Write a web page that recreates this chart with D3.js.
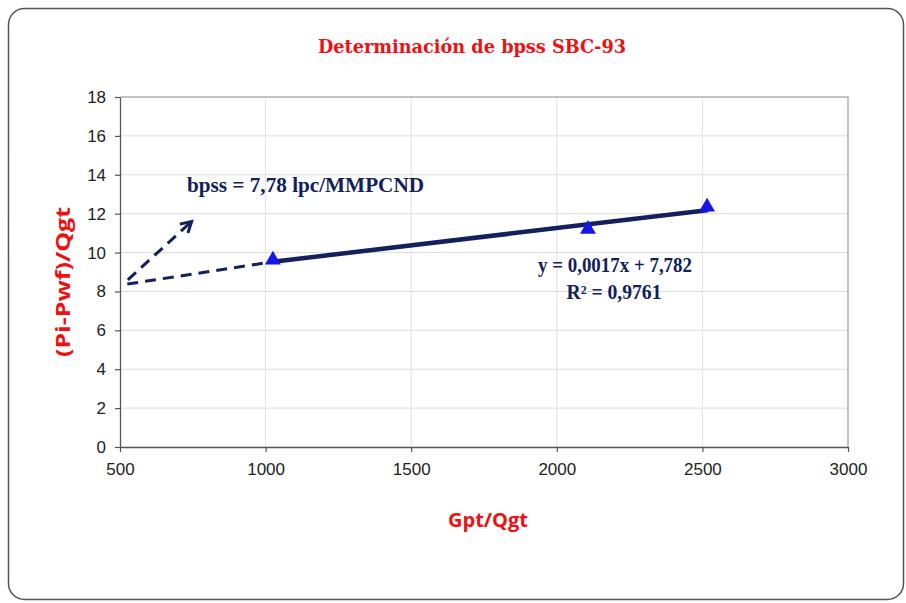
<!DOCTYPE html>
<html>
<head>
<meta charset="utf-8">
<script src="https://cdn.jsdelivr.net/npm/d3@7"></script>
<style>
  html, body { margin: 0; padding: 0; background: #ffffff; }
  svg { display: block; }
</style>
</head>
<body>
<svg id="chart" width="906" height="603"></svg>
<script>
// Measured points: Gpt/Qgt vs (Pi-Pwf)/Qgt
const gptQgt = [1025, 2107, 2516];
const piPwfQgt = [9.62, 11.2, 12.35];

// Linear fit reported on the chart
const slope = 0.0017;
const intercept = 7.782;
const eqLabel = "y = 0,0017x + 7,782";
const r2Label = "R² = 0,9761";
const bpssLabel = "bpss = 7,78 lpc/MMPCND";

const xTicks = [500, 1000, 1500, 2000, 2500, 3000];
const yTicks = [0, 2, 4, 6, 8, 10, 12, 14, 16, 18];

const svg = d3.select("#chart");

// Outer frame
svg.append("rect")
  .attr("x", 8.5).attr("y", 8.5)
  .attr("width", 895).attr("height", 591)
  .attr("rx", 16).attr("ry", 16)
  .attr("fill", "#ffffff")
  .attr("stroke", "#555555")
  .attr("stroke-width", 1.5);

const plot = { left: 120, right: 848, top: 97, bottom: 447 };

const x = d3.scaleLinear().domain([500, 3000]).range([plot.left, plot.right]);
const y = d3.scaleLinear().domain([0, 18]).range([plot.bottom, plot.top]);

// Gridlines
svg.append("g")
  .selectAll("line")
  .data(yTicks.filter(d => d > 0))
  .join("line")
  .attr("x1", plot.left).attr("x2", plot.right)
  .attr("y1", d => y(d)).attr("y2", d => y(d))
  .attr("stroke", "#dcdcdc").attr("stroke-width", 1);

svg.append("g")
  .selectAll("line")
  .data(xTicks.filter(d => d > 500 && d < 3000))
  .join("line")
  .attr("x1", d => x(d)).attr("x2", d => x(d))
  .attr("y1", plot.top).attr("y2", plot.bottom)
  .attr("stroke", "#e2e2e2").attr("stroke-width", 1);

// Plot area border (top & right)
svg.append("path")
  .attr("d", `M${plot.left},${plot.top}H${plot.right}V${plot.bottom}`)
  .attr("fill", "none")
  .attr("stroke", "#9a9a9a")
  .attr("stroke-width", 1.2);

// Axes
const xAxis = d3.axisBottom(x).tickValues(xTicks).tickSize(5).tickSizeOuter(0).tickFormat(d3.format("d"));
const yAxis = d3.axisLeft(y).tickValues(yTicks).tickSize(5).tickSizeOuter(0).tickFormat(d3.format("d"));

const gx = svg.append("g").attr("transform", `translate(0,${plot.bottom})`).call(xAxis);
const gy = svg.append("g").attr("transform", `translate(${plot.left},0)`).call(yAxis);

[gx, gy].forEach(g => {
  g.select(".domain").attr("stroke", "#555555").attr("stroke-width", 1.3);
  g.selectAll(".tick line").attr("stroke", "#555555").attr("stroke-width", 1.2);
  g.selectAll(".tick text")
    .attr("fill", "#222222")
    .attr("font-family", "Liberation Sans, Arial, sans-serif")
    .attr("font-size", 17);
});
gx.selectAll(".tick text").attr("dy", "1.15em");
gy.selectAll(".tick text").attr("dx", "-0.35em");

// Title
svg.append("text")
  .attr("x", 472).attr("y", 53)
  .attr("text-anchor", "middle")
  .attr("fill", "#ee1111")
  .attr("font-family", "DejaVu Serif, serif")
  .attr("font-weight", "bold")
  .attr("font-size", 19)
  .attr("textLength", 308)
  .attr("lengthAdjust", "spacingAndGlyphs")
  .text("Determinación de bpss SBC-93");

// Axis titles
svg.append("text")
  .attr("x", 488).attr("y", 527)
  .attr("text-anchor", "middle")
  .attr("fill", "#ee1111")
  .attr("font-family", "Open Sans, Liberation Sans, sans-serif")
  .attr("font-weight", "bold")
  .attr("font-size", 20)
  .attr("textLength", 80)
  .attr("lengthAdjust", "spacingAndGlyphs")
  .text("Gpt/Qgt");

svg.append("text")
  .attr("transform", "translate(70,282) rotate(-90)")
  .attr("text-anchor", "middle")
  .attr("fill", "#ee1111")
  .attr("font-family", "Open Sans, Liberation Sans, sans-serif")
  .attr("font-weight", "bold")
  .attr("font-size", 19)
  .attr("textLength", 150)
  .attr("lengthAdjust", "spacingAndGlyphs")
  .text("(Pi-Pwf)/Qgt");

const navy = "#12205e";

// Dashed extension of the fit back to x = 500
svg.append("line")
  .attr("x1", x(525)).attr("y1", y(8.38))
  .attr("x2", x(gptQgt[0])).attr("y2", y(slope * gptQgt[0] + intercept))
  .attr("stroke", navy)
  .attr("stroke-width", 3)
  .attr("stroke-dasharray", "11,7");

// Dashed arrow pointing to the intercept label
svg.append("defs").append("marker")
  .attr("id", "arrowHead")
  .attr("viewBox", "0 0 10 10")
  .attr("refX", 8).attr("refY", 5)
  .attr("markerWidth", 5).attr("markerHeight", 5)
  .attr("orient", "auto")
  .append("path")
  .attr("d", "M1,1 L8,5 L1,9")
  .attr("fill", "none")
  .attr("stroke", navy)
  .attr("stroke-width", 2);

svg.append("line")
  .attr("x1", x(527)).attr("y1", y(8.6))
  .attr("x2", x(746)).attr("y2", y(11.6))
  .attr("stroke", navy)
  .attr("stroke-width", 3)
  .attr("stroke-dasharray", "11,7")
  .attr("marker-end", "url(#arrowHead)");

// Trend line over the data range
const xMin = d3.min(gptQgt), xMax = d3.max(gptQgt);
svg.append("line")
  .attr("x1", x(xMin)).attr("y1", y(slope * xMin + intercept))
  .attr("x2", x(xMax)).attr("y2", y(slope * xMax + intercept + 0.12))
  .attr("stroke", navy)
  .attr("stroke-width", 4.5)
  .attr("stroke-linecap", "round");

// Data markers (triangles)
const tri = d3.symbol().type(d3.symbolTriangle).size(110);
svg.append("g")
  .selectAll("path")
  .data(gptQgt.map((g, i) => [g, piPwfQgt[i]]))
  .join("path")
  .attr("d", tri)
  .attr("transform", d => `translate(${x(d[0])},${y(d[1])})`)
  .attr("fill", "#1515ee");

// Annotations
svg.append("text")
  .attr("x", 187).attr("y", 192)
  .attr("fill", navy)
  .attr("font-family", "Liberation Serif, Times New Roman, serif")
  .attr("font-weight", "bold")
  .attr("font-size", 20)
  .attr("textLength", 237)
  .attr("lengthAdjust", "spacingAndGlyphs")
  .text(bpssLabel);

svg.append("text")
  .attr("x", 615).attr("y", 272)
  .attr("text-anchor", "middle")
  .attr("fill", navy)
  .attr("font-family", "Liberation Serif, Times New Roman, serif")
  .attr("font-weight", "bold")
  .attr("font-size", 20)
  .attr("textLength", 154)
  .attr("lengthAdjust", "spacingAndGlyphs")
  .text(eqLabel);

svg.append("text")
  .attr("x", 614).attr("y", 299)
  .attr("text-anchor", "middle")
  .attr("fill", navy)
  .attr("font-family", "Liberation Serif, Times New Roman, serif")
  .attr("font-weight", "bold")
  .attr("font-size", 20)
  .attr("textLength", 95)
  .attr("lengthAdjust", "spacingAndGlyphs")
  .text(r2Label);
</script>
</body>
</html>
